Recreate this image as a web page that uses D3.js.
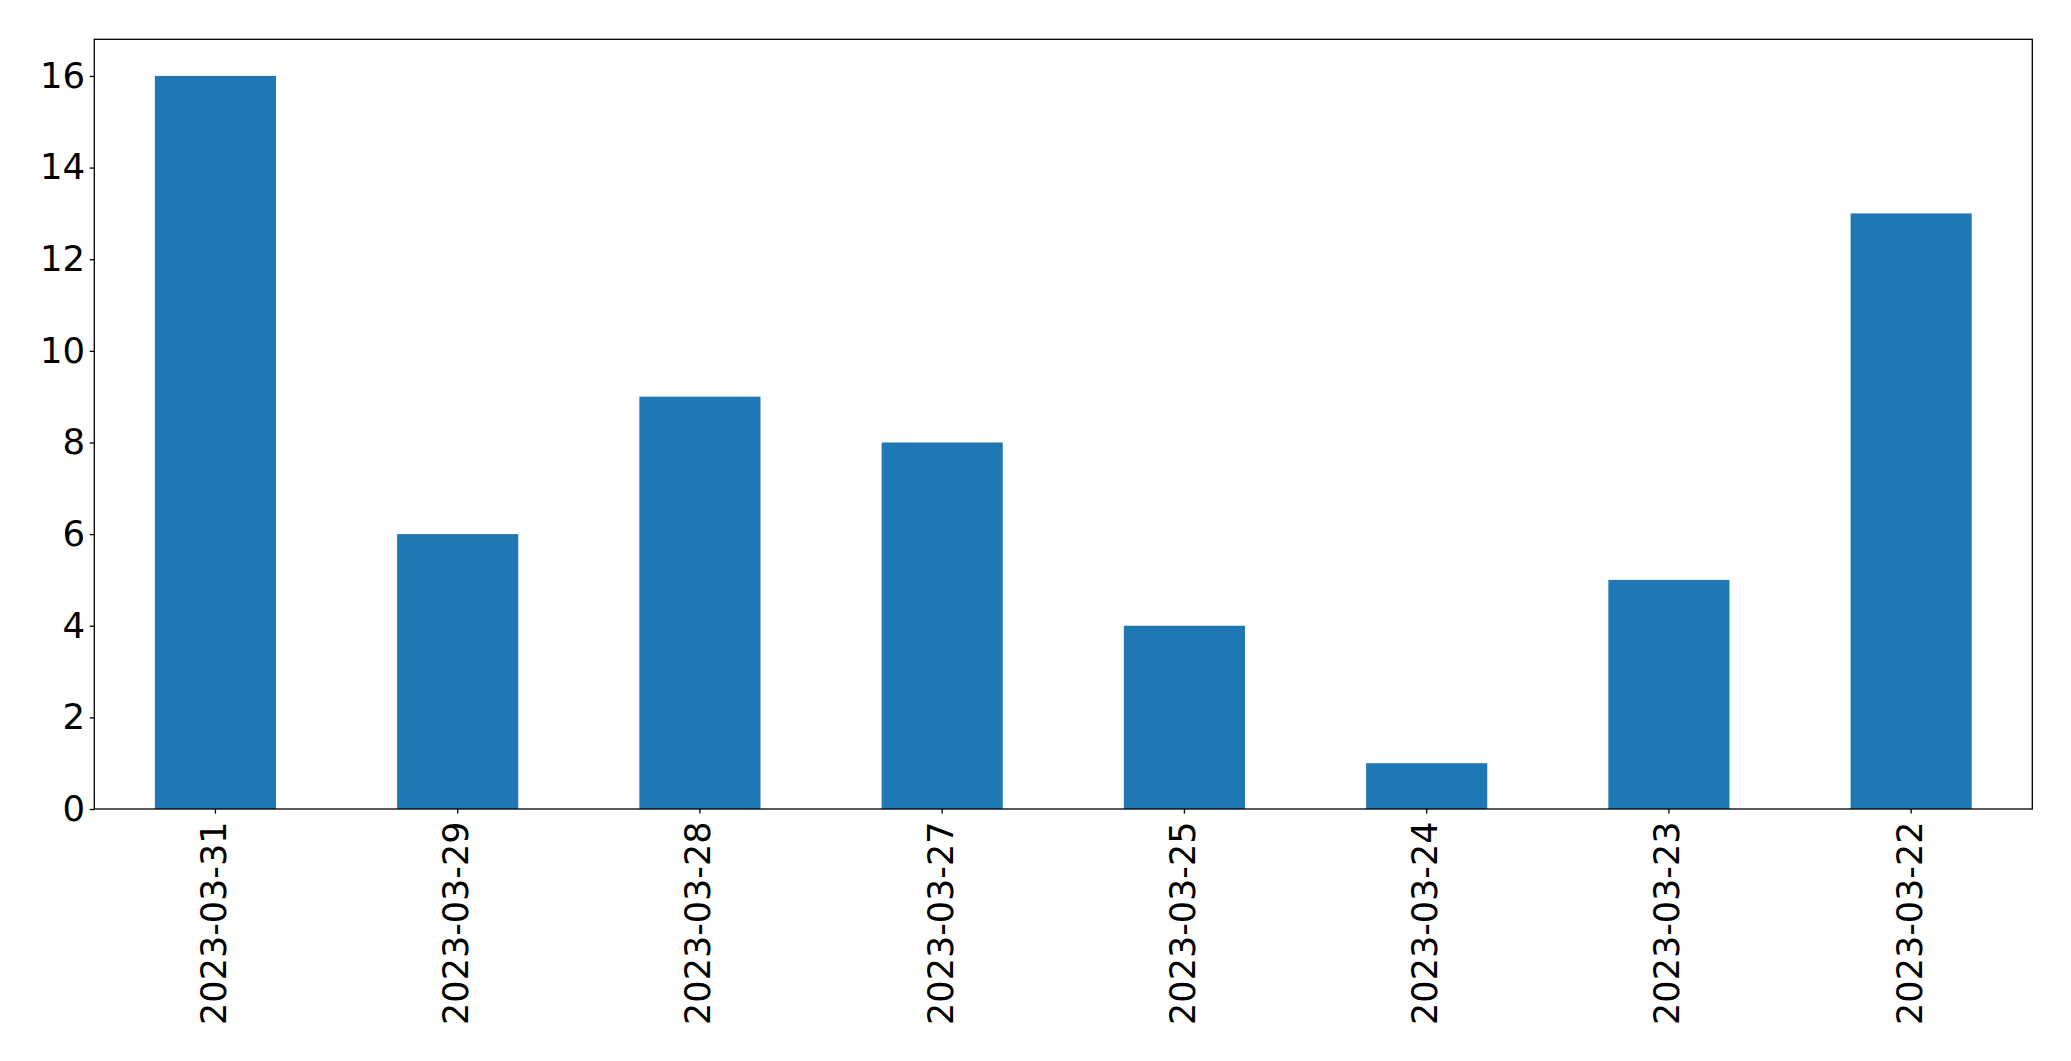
<!DOCTYPE html>
<html><head><meta charset="utf-8">
<script src="https://cdn.jsdelivr.net/npm/d3@7"></script>
<style>
html,body{margin:0;padding:0;background:#fff;}
svg{display:block;font-family:"DejaVu Sans",sans-serif;}
</style></head>
<body>
<svg id="chart" width="2071" height="1061"></svg>
<script>
const categories = ["2023-03-31","2023-03-29","2023-03-28","2023-03-27","2023-03-25","2023-03-24","2023-03-23","2023-03-22"];
const values = [16, 6, 9, 8, 4, 1, 5, 13];
const yTicks = [0, 2, 4, 6, 8, 10, 12, 14, 16];

const W = 2071, H = 1061;
const m = {left: 94.3, right: 2032.3, top: 39.3, bottom: 809};
const svg = d3.select("#chart");

const x = d3.scaleBand().domain(categories).range([m.left, m.right]).paddingInner(0.5).paddingOuter(0.25);
const y = d3.scaleLinear().domain([0, d3.max(values) * 1.05]).range([m.bottom, m.top]);

svg.append("g").selectAll("rect").data(values).join("rect")
  .attr("x", (d, i) => x(categories[i]))
  .attr("width", x.bandwidth())
  .attr("y", d => y(d))
  .attr("height", d => y(0) - y(d))
  .attr("fill", "#1f77b4");

const fs = 35;
const yAxis = svg.append("g").attr("transform", `translate(${m.left},0)`)
  .call(d3.axisLeft(y).tickValues(yTicks).tickFormat(d3.format("d")).tickSize(4.6).tickPadding(4.6));
yAxis.select(".domain").remove();
yAxis.selectAll("line").attr("stroke", "#000").attr("stroke-width", 1.3);
yAxis.selectAll("text").attr("font-size", 35.5).attr("fill", "#000").attr("font-family", "DejaVu Sans");

const xAxis = svg.append("g").attr("transform", `translate(0,${m.bottom})`)
  .call(d3.axisBottom(x).tickSize(4.6).tickPadding(4.6));
xAxis.select(".domain").remove();
xAxis.selectAll("line").attr("stroke", "#000").attr("stroke-width", 1.3);
xAxis.selectAll("text")
  .attr("font-size", fs).attr("fill", "#000").attr("font-family", "DejaVu Sans")
  .attr("transform", "rotate(-90)")
  .attr("text-anchor", "end")
  .attr("x", -12.5)
  .attr("y", 0)
  .attr("dy", "0.30em");

svg.append("rect")
  .attr("x", m.left).attr("y", m.top)
  .attr("width", m.right - m.left).attr("height", m.bottom - m.top)
  .attr("fill", "none").attr("stroke", "#000").attr("stroke-width", 1.3);
</script>
</body></html>
